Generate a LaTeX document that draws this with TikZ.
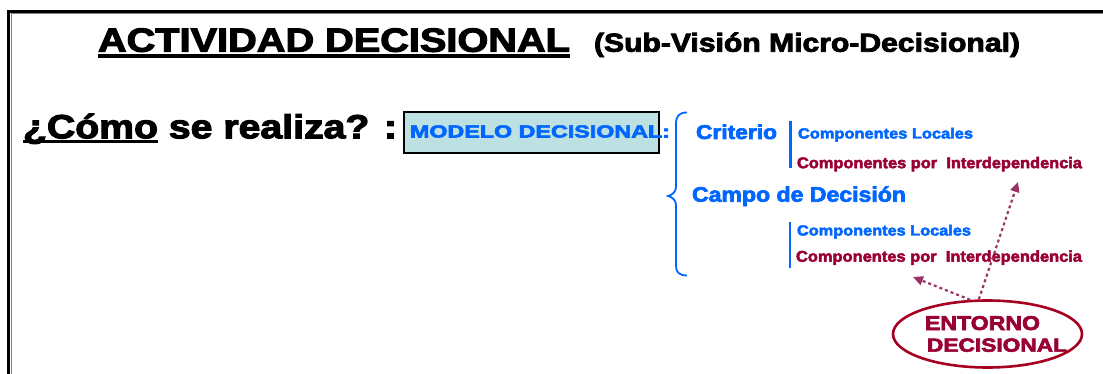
\documentclass[tikz,border=0pt]{standalone}
\usepackage{fontspec}
\setmainfont{Liberation Sans}[BoldFeatures={FakeBold=3}]
\usetikzlibrary{arrows.meta,shapes.geometric}

\definecolor{decblue}{RGB}{0,102,255}
\definecolor{decred}{RGB}{153,0,51}
\definecolor{envred}{RGB}{165,0,33}
\definecolor{arrowpurple}{RGB}{153,51,102}
\definecolor{boxfill}{RGB}{189,224,227}

% bold font at a given size
\newcommand\dsize[1]{\fontsize{#1}{#1}\selectfont\bfseries}
% set text stretched horizontally to a given width (in pt)
\newlength\natw
\newcommand\fitw[2]{\settowidth\natw{#2}\pgfmathsetmacro\fitx{#1/\natw}\scalebox{\fitx}[1]{#2}}
% underline: depth of the rule's lower edge, rule thickness, text
\newcommand\ulbar[3]{\setbox0\hbox{#3}\rlap{\rule[-#1]{\wd0}{#2}}\box0\relax}

\tikzset{
  txt/.style={inner sep=0pt, outer sep=0pt, anchor=base west},
  bluetxt/.style={txt, text=decblue},
  redtxt/.style={txt, text=decred},
  bar/.style={draw=decblue, line width=2.6pt},
  dotarrow/.style={draw=arrowpurple, line width=2.2pt, dash pattern=on 3pt off 3pt,
    -{Triangle[length=10pt,width=9pt]}},
}

\begin{document}
\begin{tikzpicture}[x=1pt,y=-1pt]
  \useasboundingbox (0,0) rectangle (1103,374);

  % page frame with shadow
  \draw[black, line width=3.2pt] (8.8,374) -- (8.8,11.2) -- (1103,11.2);
  \draw[gray, line width=1.5pt] (11.6,374) -- (11.6,13.4) -- (1103,13.4);

  % heading
  \node[txt, font=\dsize{33.5}] (title) at (98,51.7)
    {\fitw{472}{\ulbar{6pt}{3.3pt}{ACTIVIDAD DECISIONAL}}};
  \node[txt, font=\dsize{26}] (subtitle) at (594,51.7)
    {\fitw{426}{(Sub-Visión Micro-Decisional)}};

  % question
  \node[txt, font=\dsize{33.5}] (como) at (23,138.3)
    {\fitw{374}{\ulbar{4.8pt}{3pt}{¿Cómo} se realiza? :}};

  % decision model box
  \node[draw=black, line width=1.4pt, fill=boxfill, minimum width=255pt,
        minimum height=41pt, inner sep=0pt] (modbox) at (531.5,132.5) {};
  \node[bluetxt, font=\dsize{17.5}] (modelo) at (410,137.5)
    {\fitw{260}{MODELO DECISIONAL:}};

  % curly brace
  \draw[decblue, line width=1.8pt]
    (687,112.5) .. controls (679,112.5) and (676,116) .. (676,124)
    -- (676,187) .. controls (676,192) and (672,195) .. (668,196)
    .. controls (672,197) and (676,200) .. (676,205)
    -- (676,266) .. controls (676,272) and (679,275.5) .. (687,275.5);

  % criterion
  \node[bluetxt, font=\dsize{20}] (criterio) at (696,139) {\fitw{81}{Criterio}};
  \draw[bar] (790.5,121) -- (790.5,168);
  \node[bluetxt, font=\dsize{14.7}] (loc1) at (798,138.5)
    {\fitw{175}{Componentes Locales}};
  \node[redtxt, font=\dsize{15.5}] (int1) at (797,168.2)
    {\fitw{285}{Componentes por\ \ Interdependencia}};

  % decision field
  \node[bluetxt, font=\dsize{21}] (campo) at (692,201.7)
    {\fitw{214}{Campo de Decisión}};
  \draw[bar] (790,222) -- (790,268);
  \node[bluetxt, font=\dsize{14.7}] (loc2) at (797,235.5)
    {\fitw{174}{Componentes Locales}};
  \node[redtxt, font=\dsize{15.5}] (int2) at (796,261.7)
    {\fitw{286}{Componentes por\ \ Interdependencia}};

  % decision environment
  \node[ellipse, draw=envred, line width=2.6pt, minimum width=189pt,
        minimum height=67pt, inner sep=0pt] (ent) at (987.5,334) {};
  \node[redtxt, font=\dsize{20}] (entA) at (925,330) {\fitw{115}{ENTORNO}};
  \node[redtxt, font=\dsize{19}] (entB) at (927,351.7) {\fitw{140}{DECISIONAL}};

  % influence arrows
  \coordinate (tipA) at (1018,182);
  \coordinate (tipB) at (913,277);
  \draw[dotarrow] (ent.104) -- (tipA);
  \draw[dotarrow] (ent.117) -- (tipB);
\end{tikzpicture}
\end{document}
